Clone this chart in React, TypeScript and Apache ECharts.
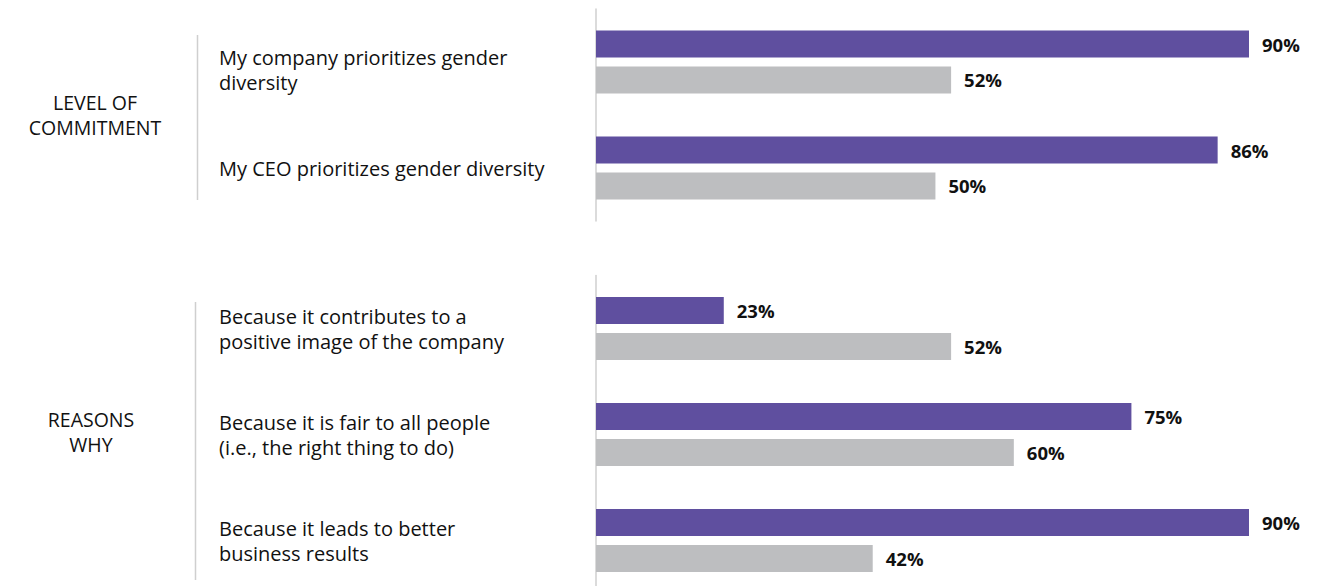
import React, { useEffect, useRef } from "react";
import * as echarts from "echarts";

const commitmentTitle = "LEVEL OF\nCOMMITMENT";
const commitmentCategories = [
  "My company prioritizes gender\ndiversity",
  "My CEO prioritizes gender diversity",
];
const commitmentPurple = [90, 86];
const commitmentGray = [52, 50];

const reasonsTitle = "REASONS\nWHY";
const reasonsCategories = [
  "Because it contributes to a\npositive image of the company",
  "Because it is fair to all people\n(i.e., the right thing to do)",
  "Because it leads to better\nbusiness results",
];
const reasonsPurple = [23, 75, 90];
const reasonsGray = [52, 60, 42];

const PURPLE = "#5F4F9F";
const GRAY = "#BDBEC0";
const LINE = "#CFCFCF";
const FONT = "'Open Sans', Lato, sans-serif";

export default function App() {
  const ref = useRef<HTMLDivElement>(null);
  useEffect(() => {
    if (!ref.current) return;
    const chart = echarts.init(ref.current, null, { renderer: "svg" });
    const xAxisBase = (gridIndex: number) => ({
      type: "value",
      gridIndex,
      min: 6.7,
      max: 90,
      show: false,
      splitLine: { show: false },
    });
    const yAxisBase = (gridIndex: number, cats: string[]) => ({
      type: "category",
      gridIndex,
      inverse: true,
      data: cats,
      axisTick: { show: false },
      axisLine: { show: true, lineStyle: { color: LINE, width: 1.5 } },
      axisLabel: {
        align: "left",
        margin: 377,
        fontFamily: FONT,
        fontSize: 20,
        lineHeight: 25,
        color: "#111",
        formatter: (v: string, i: number) =>
          gridIndex === 0 && i === 0 ? "{s| }\n" + v : v,
        rich: {
          s: { fontSize: 4, lineHeight: 16 },
        },
      },
    });
    const label = {
      show: true,
      position: "right",
      distance: 13,
      formatter: "{c}%",
      fontFamily: FONT,
      fontWeight: "bold",
      fontSize: 18.5,
      color: "#111",
    };
    const bar = (data: number[], color: string, idx: number) => ({
      type: "bar",
      xAxisIndex: idx,
      yAxisIndex: idx,
      data,
      barWidth: 27,
      barGap: "33%",
      itemStyle: { color },
      label,
    });
    const title = (text: string, x: number, y: number) => ({
      type: "text",
      x,
      y,
      style: {
        text,
        fontFamily: FONT,
        fontSize: 19.5,
        lineHeight: 25,
        fill: "#111",
        align: "center",
        verticalAlign: "middle",
      },
    });
    chart.setOption({
      animation: false,
      grid: [
        { left: 596, width: 653, top: 9, height: 212, outerBoundsMode: "none", containLabel: false },
        { left: 596, width: 653, top: 275.5, height: 318, outerBoundsMode: "none", containLabel: false },
      ],
      xAxis: [xAxisBase(0), xAxisBase(1)],
      yAxis: [yAxisBase(0, commitmentCategories), yAxisBase(1, reasonsCategories)],
      series: [
        bar(commitmentPurple, PURPLE, 0),
        bar(commitmentGray, GRAY, 0),
        bar(reasonsPurple, PURPLE, 1),
        bar(reasonsGray, GRAY, 1),
      ],
      graphic: [
        title(commitmentTitle, 95, 115),
        title(reasonsTitle, 91, 432),
        {
          type: "line",
          shape: { x1: 197.5, y1: 35, x2: 197.5, y2: 200 },
          style: { stroke: LINE, lineWidth: 1.5 },
        },
        {
          type: "line",
          shape: { x1: 195.5, y1: 302, x2: 195.5, y2: 580 },
          style: { stroke: LINE, lineWidth: 1.5 },
        },
      ],
    });
    return () => chart.dispose();
  }, []);
  return (
    <div
      ref={ref}
      style={{ position: "absolute", left: 0, top: 0, width: 1333, height: 586 }}
    />
  );
}
